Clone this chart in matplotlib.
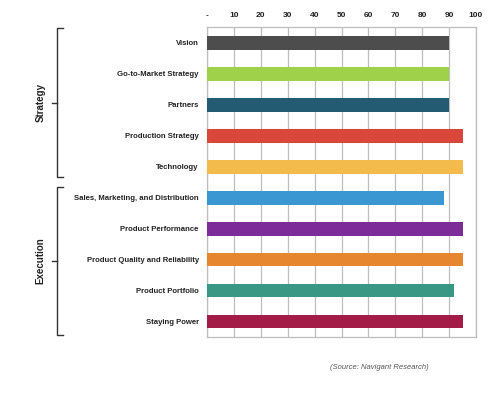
import matplotlib
matplotlib.use("Agg")
import matplotlib.pyplot as plt
import matplotlib.transforms as mtransforms
import numpy as np

plt.rcParams['font.family'] = ['Liberation Sans', 'DejaVu Sans']

# criteria and scores (top to bottom)
criteria = ["Vision", "Go-to-Market Strategy", "Partners", "Production Strategy",
            "Technology", "Sales, Marketing, and Distribution", "Product Performance",
            "Product Quality and Reliability", "Product Portfolio", "Staying Power"]
scores = [90, 90, 90, 95, 95, 88, 95, 95, 92, 95]
colors = ["#4d4d4d", "#9fd14b", "#235c72", "#d8473a", "#f3ba4c",
          "#3b97d1", "#7c2b98", "#e6872f", "#3a9784", "#a31c48"]
tick_vals = [0, 10, 20, 30, 40, 50, 60, 70, 80, 90, 100]
tick_labels = ["-", "10", "20", "30", "40", "50", "60", "70", "80", "90", "100"]
groups = [("Strategy", 0, 4), ("Execution", 5, 9)]

fig = plt.figure(figsize=(5, 3.93), dpi=100)
ax = fig.add_axes([0.414, 0.1425, 0.538, 0.7885])

y = np.arange(len(criteria))
ax.barh(y, scores, height=0.45, color=colors, zorder=3)

ax.set_xlim(0, 100)
ax.set_ylim(len(criteria) - 0.5, -0.5)
ax.xaxis.tick_top()
ax.set_xticks(tick_vals)
ax.set_xticklabels(tick_labels, fontsize=6, fontweight='bold', color='#222222')
ax.set_yticks(y)
ax.set_yticklabels(criteria, fontsize=5.6, fontweight='bold', color='#222222')
ax.tick_params(axis='x', length=0, pad=6)
ax.tick_params(axis='y', length=0, pad=6)
ax.grid(axis='x', color='#bdbdbd', linewidth=0.9, zorder=0)
for s in ax.spines.values():
    s.set_color('#bdbdbd')
    s.set_linewidth(0.9)

# group brackets on the left
trans = mtransforms.blended_transform_factory(ax.transAxes, ax.transData)
xv, xe, xn = -0.558, -0.535, -0.575
for name, i0, i1 in groups:
    top, bot = i0 - 0.5 + (0.02 if i0 == 0 else 0.15), i1 + 0.35 + (0.1 if i1 == 9 else 0)
    mid = (top + bot) / 2
    ax.plot([xe, xv, xv, xe], [top, top, bot, bot], color='#333333', lw=1.0,
            transform=trans, clip_on=False, solid_joinstyle='round')
    ax.plot([xv, xn], [mid, mid], color='#333333', lw=1.0, transform=trans, clip_on=False)
    ax.text(-0.62, mid, name, rotation=90, ha='center', va='center', fontsize=7,
            fontweight='bold', color='#222222', transform=trans)

fig.text(0.66, 0.064, "(Source: Navigant Research)", fontsize=5.5, style='italic',
         color='#555555', ha='left', va='center')

fig.savefig("out.png", dpi=100)
